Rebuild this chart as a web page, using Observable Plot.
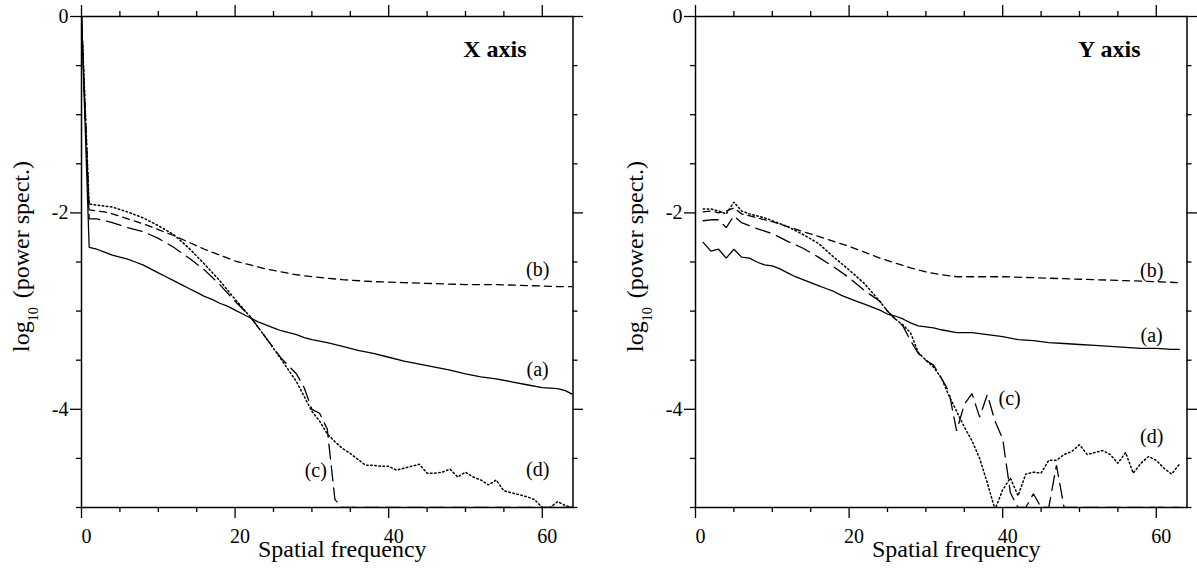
<!DOCTYPE html>
<html>
<head>
<meta charset="utf-8">
<script src="https://cdn.jsdelivr.net/npm/d3@7"></script>
<script src="https://cdn.jsdelivr.net/npm/@observablehq/plot@0.6"></script>
<style>
  html, body { margin: 0; padding: 0; background: #fff; overflow: hidden; }
  #wrap { position: relative; width: 1197px; height: 571px; }
  .panel { position: absolute; top: 0; }
</style>
</head>
<body>
<div id="wrap"></div>
<script>
// ---------- scale domains & tick values ----------
const xDomain = [0, 64];
const yDomain = [-5, 0];
const xMajorTicks = [0, 20, 40, 60];
const xMinorTicks = [5, 10, 15, 25, 30, 35, 45, 50, 55];
const yMajorTicks = [0, -2, -4];
const yMinorTicks = [-0.5, -1, -1.5, -2.5, -3, -3.5, -4.5, -5];
const curveLabels = ["(a)", "(b)", "(c)", "(d)"];
const panelTitles = ["X axis", "Y axis"];

// ---------- X axis panel ----------
const xA_freq = [0,1,2,3,4,5,6,7,8,9,10,11,12,13,14,15,16,17,18,19,20,21,22,23,24,25,26,27,28,29,30,32,34,36,38,40,42,44,46,48,50,52,54,56,58,60,62,63,64];
const xA_val  = [0,-2.35,-2.37,-2.40,-2.43,-2.45,-2.47,-2.50,-2.53,-2.57,-2.61,-2.65,-2.69,-2.73,-2.77,-2.81,-2.85,-2.88,-2.92,-2.95,-2.99,-3.03,-3.07,-3.11,-3.14,-3.17,-3.20,-3.22,-3.24,-3.27,-3.29,-3.32,-3.36,-3.40,-3.43,-3.47,-3.51,-3.54,-3.57,-3.60,-3.64,-3.67,-3.69,-3.72,-3.75,-3.78,-3.79,-3.81,-3.85];

const xB_freq = [0,1,2,3,4,6,8,10,12,14,16,18,20,22,24,26,28,30,34,38,42,46,50,54,58,62,64];
const xB_val  = [0,-1.97,-1.98,-1.99,-2.01,-2.06,-2.11,-2.17,-2.23,-2.30,-2.37,-2.43,-2.49,-2.53,-2.57,-2.60,-2.63,-2.65,-2.68,-2.70,-2.71,-2.72,-2.73,-2.73,-2.74,-2.75,-2.75];

const xC_freq = [0,1,2,3,4,6,8,10,12,14,16,18,20,22,24,26,28,29,30,31,32,33,34,40,50,60,64];
const xC_val  = [0,-2.06,-2.06,-2.08,-2.10,-2.15,-2.19,-2.26,-2.35,-2.46,-2.58,-2.73,-2.90,-3.06,-3.27,-3.48,-3.64,-3.78,-4.00,-4.04,-4.20,-4.92,-5.0,-5.0,-5.0,-5.0,-5.0];

const xD_freq = [0,1,2,3,4,6,8,10,12,14,16,18,20,22,24,26,28,30,31,32,33,34,35,36,37,38,39,40,41,42,43,44,45,46,47,48,49,50,51,52,53,54,55,56,57,58,59,60,61,62,63,64];
const xD_val  = [0,-1.91,-1.92,-1.93,-1.94,-1.99,-2.05,-2.13,-2.22,-2.36,-2.52,-2.69,-2.88,-3.06,-3.27,-3.49,-3.72,-4.02,-4.12,-4.25,-4.33,-4.40,-4.45,-4.51,-4.57,-4.57,-4.58,-4.58,-4.62,-4.60,-4.58,-4.56,-4.65,-4.65,-4.64,-4.61,-4.69,-4.64,-4.69,-4.72,-4.77,-4.72,-4.83,-4.85,-4.87,-4.89,-4.92,-5.0,-5.0,-4.94,-4.98,-5.0];

// ---------- Y axis panel ----------
const yA_freq = [1,2,3,4,5,6,7,8,9,10,11,12,13,14,15,16,17,18,19,20,21,22,23,24,25,26,27,28,29,30,31,32,34,36,38,40,42,44,46,48,50,52,54,56,58,60,62,63];
const yA_val  = [-2.30,-2.39,-2.37,-2.46,-2.37,-2.45,-2.46,-2.50,-2.53,-2.54,-2.57,-2.61,-2.65,-2.68,-2.71,-2.74,-2.77,-2.80,-2.84,-2.87,-2.90,-2.93,-2.96,-2.99,-3.03,-3.05,-3.08,-3.12,-3.15,-3.16,-3.17,-3.19,-3.22,-3.22,-3.24,-3.26,-3.29,-3.30,-3.32,-3.33,-3.34,-3.35,-3.36,-3.37,-3.38,-3.38,-3.39,-3.39];

const yB_freq = [1,2,3,4,5,6,8,10,12,14,16,18,20,22,24,26,28,30,32,34,36,40,44,48,52,56,60,63];
const yB_val  = [-1.99,-1.98,-2.00,-1.98,-1.95,-2.01,-2.05,-2.09,-2.14,-2.19,-2.24,-2.29,-2.34,-2.40,-2.46,-2.51,-2.56,-2.60,-2.63,-2.65,-2.65,-2.65,-2.66,-2.67,-2.68,-2.69,-2.70,-2.71];

const yC_freq = [1,2,3,4,5,6,7,8,10,12,14,16,18,20,22,24,25,26,27,28,29,30,31,32,33,34,35,36,37,38,39,40,41,42,43,44,45,46,47,48,55,63];
const yC_val  = [-2.08,-2.07,-2.07,-2.15,-2.03,-2.10,-2.13,-2.16,-2.21,-2.29,-2.36,-2.45,-2.55,-2.66,-2.79,-2.90,-3.00,-3.08,-3.15,-3.30,-3.43,-3.50,-3.55,-3.68,-3.82,-4.22,-3.95,-3.84,-4.08,-3.85,-4.12,-4.30,-4.85,-5.0,-5.0,-4.86,-5.0,-5.0,-4.57,-5.0,-5.0,-5.0];

const yD_freq = [1,2,3,4,5,6,7,8,9,10,12,14,16,18,20,22,24,25,26,27,28,29,30,31,32,33,34,35,36,37,38,39,40,41,42,43,44,45,46,47,48,49,50,51,52,53,54,55,56,57,58,59,60,61,62,63];
const yD_val  = [-1.96,-1.96,-1.98,-2.01,-1.89,-1.98,-2.01,-2.03,-2.05,-2.08,-2.14,-2.22,-2.31,-2.45,-2.58,-2.72,-2.90,-3.00,-3.08,-3.14,-3.22,-3.42,-3.50,-3.57,-3.68,-3.86,-4.02,-4.18,-4.32,-4.50,-4.75,-5.02,-4.82,-4.70,-4.88,-4.66,-4.64,-4.65,-4.52,-4.52,-4.46,-4.43,-4.36,-4.46,-4.44,-4.42,-4.46,-4.55,-4.44,-4.65,-4.55,-4.48,-4.52,-4.60,-4.66,-4.56];

// ---------- annotation placement (data coordinates) ----------
const leftLabelPos  = [[59.4, -3.60], [59.4, -2.58], [30.5, -4.62], [59.4, -4.61]];
const rightLabelPos = [[59.4, -3.25], [59.4, -2.59], [40.9, -3.89], [59.4, -4.28]];

// ---------- helpers ----------
const rows = (xs, ys) => xs.map((x, i) => ({x, y: ys[i]}));
const styles = [
  {w: 1.3, dash: null},        // (a) solid
  {w: 1.3, dash: "7,5"},       // (b) short dash
  {w: 1.3, dash: "15,7"},      // (c) long dash
  {w: 1.5, dash: "1.5,2.6"}    // (d) dotted
];
const FONT = '"Liberation Serif", "Times New Roman", Times, serif';
const TW = 1.3; // tick stroke width

function tickMarks() {
  const [y0, y1] = yDomain, [x0, x1] = xDomain;
  const out = [];
  for (const [ticks, len] of [[xMajorTicks, 11], [xMinorTicks, 5]]) {
    out.push(Plot.ruleX(ticks, {y1: y0, y2: y0, insetBottom: -len, stroke: "#000", strokeWidth: TW}));
    out.push(Plot.ruleX(ticks, {y1: y1, y2: y1, insetTop: -len, stroke: "#000", strokeWidth: TW}));
  }
  for (const [ticks, len] of [[yMajorTicks, 11], [yMinorTicks, 5]]) {
    out.push(Plot.ruleY(ticks, {x1: x0, x2: x0, insetLeft: -len, stroke: "#000", strokeWidth: TW}));
    out.push(Plot.ruleY(ticks, {x1: x1, x2: x1, insetRight: -len, stroke: "#000", strokeWidth: TW}));
  }
  return out;
}

function makePanel(seriesList, labelPos, title) {
  const labelRows = curveLabels.map((t, i) => ({t, x: labelPos[i][0], y: labelPos[i][1]}));
  const svg = Plot.plot({
    width: 583, height: 571,
    marginLeft: 81, marginRight: 10.5, marginTop: 16, marginBottom: 64,
    style: {fontFamily: FONT, fontSize: "20px", color: "#000", background: "#fff"},
    x: {domain: xDomain},
    y: {domain: yDomain},
    marks: [
      ...seriesList.map((s, i) => Plot.line(rows(s[0], s[1]), {
        x: "x", y: "y", stroke: "#000", strokeWidth: styles[i].w,
        strokeDasharray: styles[i].dash, clip: true, strokeLinejoin: "miter"
      })),
      // tick labels
      Plot.axisX(xMajorTicks, {anchor: "bottom", tickSize: 0, tickPadding: 21, dx: 5, tickFormat: d => String(d), label: null, fontSize: 20}),
      Plot.axisY(yMajorTicks, {anchor: "left", tickSize: 0, tickPadding: 13, tickFormat: d => String(d), label: null, fontSize: 20}),
      // outward ticks on all four sides
      ...tickMarks(),
      Plot.frame({stroke: "#000", strokeWidth: 1.5}),
      // curve labels
      Plot.text(labelRows, {x: "x", y: "y", text: "t", fontSize: 20, lineAnchor: "middle", fill: "#000"}),
      // panel title
      Plot.text([title], {frameAnchor: "top-right", dx: -46.5, dy: 40.7, textAnchor: "end", lineAnchor: "bottom", fontSize: 24, fontWeight: "bold", fill: "#000"}),
      // x axis label
      Plot.text(["Spatial frequency"], {frameAnchor: "bottom", dx: 15, dy: 49, lineAnchor: "bottom", fontSize: 24, fill: "#000"})
    ]
  });
  // y axis label with subscript
  const t = d3.select(svg).append("text")
    .attr("transform", "translate(28.5,352) rotate(-90)")
    .attr("font-family", FONT)
    .attr("font-size", 24)
    .attr("fill", "#000")
    .attr("text-anchor", "start");
  t.append("tspan").text("log");
  t.append("tspan").attr("font-size", 14).attr("dy", 9).text("10");
  t.append("tspan").attr("dy", -9).attr("dx", 3).text(" (power spect.)");
  return svg;
}

const left = makePanel(
  [[xA_freq, xA_val], [xB_freq, xB_val], [xC_freq, xC_val], [xD_freq, xD_val]],
  leftLabelPos, panelTitles[0]);
const right = makePanel(
  [[yA_freq, yA_val], [yB_freq, yB_val], [yC_freq, yC_val], [yD_freq, yD_val]],
  rightLabelPos, panelTitles[1]);

left.classList.add("panel");
right.classList.add("panel");
left.style.left = "0px";
right.style.left = "614px";
document.getElementById("wrap").append(left, right);
</script>
</body>
</html>
